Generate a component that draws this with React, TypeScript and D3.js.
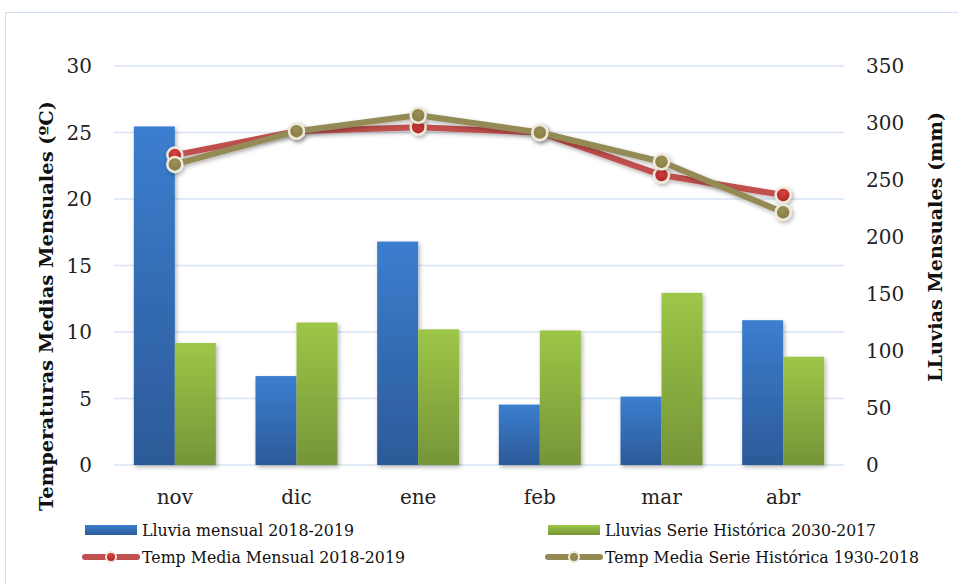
import React from "react";
import * as d3 from "d3";

const categories = ["nov", "dic", "ene", "feb", "mar", "abr"];
const lluviaMensual = [297, 78, 196, 53, 60, 127];
const lluviaHistorica = [107, 125, 119, 118, 151, 95];
const tempMensual = [23.3, 25.1, 25.4, 25.0, 21.8, 20.3];
const tempHistorica = [22.6, 25.1, 26.3, 25.0, 22.8, 19.0];
const leftTicks = [0, 5, 10, 15, 20, 25, 30];
const rightTicks = [0, 50, 100, 150, 200, 250, 300, 350];
const legendLabels = [
  "Lluvia mensual 2018-2019",
  "Lluvias Serie Histórica 2030-2017",
  "Temp Media Mensual 2018-2019",
  "Temp Media Serie Histórica 1930-2018",
];
const leftTitle = "Temperaturas Medias Mensuales (ºC)";
const rightTitle = "LLuvias Mensuales (mm)";

const W = 958;
const H = 584;
const plotL = 114;
const plotR = 844;
const plotT = 66;
const plotB = 465;
const serif = "'DejaVu Serif', 'Liberation Serif', serif";

export default function App() {
  const x0 = d3.scaleBand<string>().domain(categories).range([plotL, plotR]).paddingInner(0.326).paddingOuter(0.163);
  const x1 = d3.scaleBand<string>().domain(["a", "b"]).range([0, x0.bandwidth()]);
  const yL = d3.scaleLinear().domain([0, 30]).range([plotB, plotT]);
  const yR = d3.scaleLinear().domain([0, 350]).range([plotB, plotT]);
  const cx = (c: string) => (x0(c) as number) + x0.bandwidth() / 2;

  const line = d3.line<[number, number]>().x((d) => d[0]).y((d) => d[1]);
  const redPts: [number, number][] = categories.map((c, i) => [cx(c), yL(tempMensual[i])]);
  const olivePts: [number, number][] = categories.map((c, i) => [cx(c), yL(tempHistorica[i])]);

  const legendRow1 = 530;
  const legendRow2 = 557;
  const legCol1 = 85;
  const legCol2 = 548;
  const legendWidths = [212, 271, 263, 314];

  return (
    <svg width={W} height={H} style={{ position: "absolute", left: 0, top: 0, background: "#fff" }}>
      <defs>
        <linearGradient id="gBlue" x1="0" y1="0" x2="0" y2="1">
          <stop offset="0" stopColor="#3b7ecf" />
          <stop offset="1" stopColor="#2c5a98" />
        </linearGradient>
        <linearGradient id="gGreen" x1="0" y1="0" x2="0" y2="1">
          <stop offset="0" stopColor="#9dc647" />
          <stop offset="1" stopColor="#769538" />
        </linearGradient>
        <radialGradient id="gRed" cx="0.5" cy="0.35" r="0.7">
          <stop offset="0" stopColor="#d9433f" />
          <stop offset="1" stopColor="#a81f22" />
        </radialGradient>
        <radialGradient id="gOlive" cx="0.5" cy="0.35" r="0.7">
          <stop offset="0" stopColor="#9a9055" />
          <stop offset="1" stopColor="#847a45" />
        </radialGradient>
        <filter id="shadow" x="-20%" y="-20%" width="140%" height="140%">
          <feDropShadow dx="1.5" dy="2" stdDeviation="2" floodColor="#000" floodOpacity="0.3" />
        </filter>
      </defs>

      <rect x={5.5} y={12.5} width={960} height={600} fill="#fff" stroke="#d3e2f2" strokeWidth={1} />

      {leftTicks.map((t) => (
        <line key={"g" + t} x1={plotL} x2={plotR} y1={yL(t)} y2={yL(t)} stroke="#d9e4f2" strokeWidth={1.5} />
      ))}

      {leftTicks.map((t) => (
        <text key={"l" + t} x={92} y={yL(t)} dy="0.35em" textAnchor="end" fontFamily={serif} fontSize={20} fill="#222">
          {t}
        </text>
      ))}
      {rightTicks.map((t) => (
        <text key={"r" + t} x={866} y={yR(t)} dy="0.35em" textAnchor="start" fontFamily={serif} fontSize={20} fill="#222">
          {t}
        </text>
      ))}

      <text
        transform={`translate(46,306) rotate(-90)`}
        textAnchor="middle"
        dy="0.35em"
        fontFamily={serif}
        fontWeight="bold"
        fontSize={19}
        textLength={410}
        lengthAdjust="spacingAndGlyphs"
        fill="#111"
      >
        {leftTitle}
      </text>
      <text
        transform={`translate(935,247) rotate(-90)`}
        textAnchor="middle"
        dy="0.35em"
        fontFamily={serif}
        fontWeight="bold"
        fontSize={19}
        textLength={270}
        lengthAdjust="spacingAndGlyphs"
        fill="#111"
      >
        {rightTitle}
      </text>

      {categories.map((c) => (
        <text key={"c" + c} x={cx(c)} y={497} dy="0.35em" textAnchor="middle" fontFamily={serif} fontSize={20} fill="#222">
          {c}
        </text>
      ))}

      <g filter="url(#shadow)">
        {categories.map((c, i) => (
          <g key={"b" + c}>
            <rect
              x={(x0(c) as number) + (x1("a") as number)}
              y={yR(lluviaMensual[i])}
              width={x1.bandwidth()}
              height={plotB - yR(lluviaMensual[i])}
              fill="url(#gBlue)"
            />
            <rect
              x={(x0(c) as number) + (x1("b") as number)}
              y={yR(lluviaHistorica[i])}
              width={x1.bandwidth()}
              height={plotB - yR(lluviaHistorica[i])}
              fill="url(#gGreen)"
            />
          </g>
        ))}
      </g>

      <g filter="url(#shadow)">
        <path d={line(redPts) || ""} fill="none" stroke="#c0504d" strokeWidth={6} strokeLinejoin="round" />
        {redPts.map((p, i) => (
          <circle key={"rp" + i} cx={p[0]} cy={p[1]} r={7.5} fill="url(#gRed)" stroke="#eeeadb" strokeWidth={2.5} />
        ))}
      </g>
      <g filter="url(#shadow)">
        <path d={line(olivePts) || ""} fill="none" stroke="#948a54" strokeWidth={6} strokeLinejoin="round" />
        {olivePts.map((p, i) => (
          <circle key={"op" + i} cx={p[0]} cy={p[1]} r={7.5} fill="url(#gOlive)" stroke="#eeeadb" strokeWidth={2.5} />
        ))}
      </g>

      {/* Legend */}
      <rect x={legCol1} y={legendRow1 - 5} width={52} height={10} fill="url(#gBlue)" />
      <rect x={legCol2} y={legendRow1 - 5} width={52} height={10} fill="url(#gGreen)" />
      <line x1={legCol1} x2={legCol1 + 52} y1={legendRow2} y2={legendRow2} stroke="#c0504d" strokeWidth={6} strokeLinecap="round" />
      <circle cx={legCol1 + 26} cy={legendRow2} r={5} fill="url(#gRed)" stroke="#eeeadb" strokeWidth={2} />
      <line x1={legCol2} x2={legCol2 + 52} y1={legendRow2} y2={legendRow2} stroke="#948a54" strokeWidth={6} strokeLinecap="round" />
      <circle cx={legCol2 + 26} cy={legendRow2} r={5} fill="url(#gOlive)" stroke="#eeeadb" strokeWidth={2} />

      {legendLabels.map((t, i) => (
        <text
          key={"lg" + i}
          x={(i % 2 === 0 ? legCol1 : legCol2) + 57}
          y={i < 2 ? legendRow1 : legendRow2}
          dy="0.35em"
          fontFamily={serif}
          fontSize={17}
          textLength={legendWidths[i]}
          lengthAdjust="spacingAndGlyphs"
          fill="#111"
        >
          {t}
        </text>
      ))}
    </svg>
  );
}
